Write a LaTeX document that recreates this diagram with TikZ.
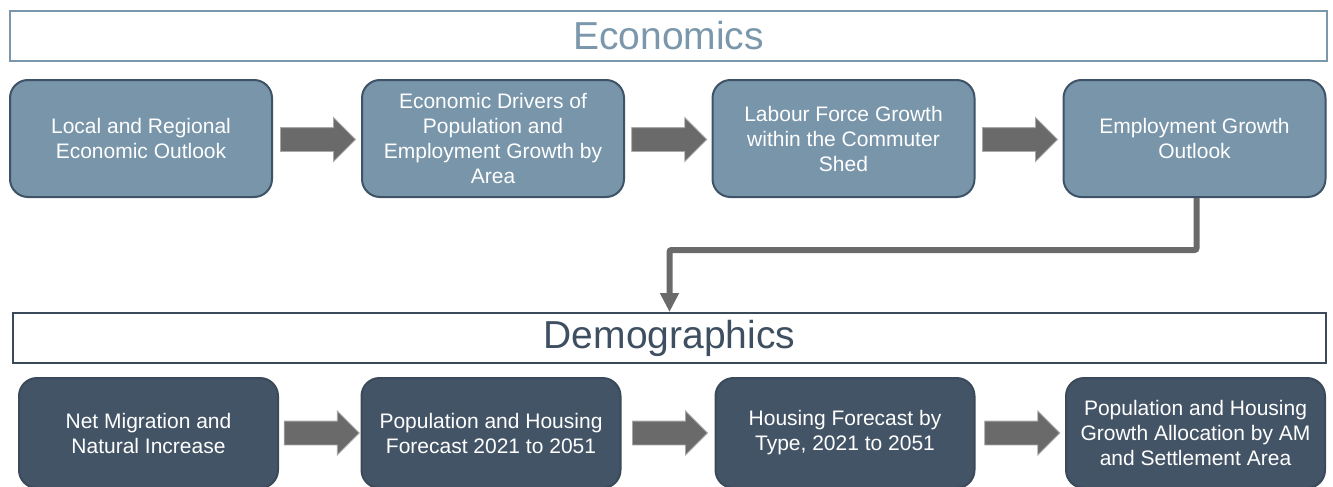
\documentclass[tikz,border=0pt]{standalone}
\usepackage{fontspec}
\setmainfont{Liberation Sans}
\usetikzlibrary{arrows.meta,shapes.arrows,calc}
\definecolor{econfill}{HTML}{7895AA}
\definecolor{econline}{HTML}{3E5367}
\definecolor{demofill}{HTML}{435466}
\definecolor{demoline}{HTML}{3A4A5B}
\definecolor{econtitle}{HTML}{7A97AB}
\definecolor{demotitle}{HTML}{3E4F61}
\definecolor{arrowgray}{HTML}{6A6A6A}
\definecolor{arrowedge}{HTML}{A8A8A8}
\tikzset{
  x=1pt, y=-1pt,
  stepbox/.style={rounded corners=18pt, line width=2pt, text=white,
    align=center, font=\fontsize{21}{25}\selectfont, inner sep=0pt},
  econbox/.style={stepbox, fill=econfill, draw=econline,
    minimum width=262pt, minimum height=117pt},
  demobox/.style={stepbox, fill=demofill, draw=demoline,
    minimum width=259pt, minimum height=110pt},
  header/.style={draw, line width=2pt, fill=white, inner sep=0pt,
    font=\fontsize{39}{44}\selectfont},
  blockarrow/.style={single arrow, fill=arrowgray, draw=arrowedge, line width=0.8pt,
    minimum height=75pt, minimum width=43pt, single arrow head extend=10pt,
    inner xsep=0pt, inner ysep=11.5pt, text height=0pt, text depth=0pt},
  conn/.style={draw=arrowgray, line width=6pt, rounded corners=2pt,
    -{Triangle[width=18pt,length=19pt]}}
}
\begin{document}
\begin{tikzpicture}
\useasboundingbox (0,0) rectangle (1333,487);
% headers
\node[header, draw=econtitle, text=econtitle, minimum width=1317pt, minimum height=50pt]
  (eh) at (668.5,36) {Economics};
\node[header, draw=demoline, text=demotitle, minimum width=1313pt, minimum height=50pt]
  (dh) at (669.5,338) {Demographics};
% economics row
\node[econbox] (e1) at (141,138.5) {Local and Regional\\Economic Outlook};
\node[econbox] (e2) at (493,138.5) {Economic Drivers of\\Population and\\Employment Growth by\\Area};
\node[econbox] (e3) at (843.5,138.5) {Labour Force Growth\\within the Commuter\\Shed};
\node[econbox] (e4) at (1194.5,138.5) {Employment Growth\\Outlook};
% demographics row
\node[demobox] (d1) at (148.5,433) {Net Migration and\\Natural Increase};
\node[demobox] (d2) at (491,433) {Population and Housing\\Forecast 2021 to 2051};
\node[demobox] (d3) at (845,433) {Housing Forecast by\\Type, 2021 to 2051};
\node[demobox] (d4) at (1195.5,433) {Population and Housing\\Growth Allocation by AM\\and Settlement Area};
% block arrows
\node[blockarrow] (a1) at ($(e1.east)!0.5!(e2.west)+(-5,1)$) {};
\node[blockarrow] (a2) at ($(e2.east)!0.5!(e3.west)+(-5,1)$) {};
\node[blockarrow] (a3) at ($(e3.east)!0.5!(e4.west)+(-5,1)$) {};
\node[blockarrow] (a4) at ($(d1.east)!0.5!(d2.west)+(-4,0)$) {};
\node[blockarrow] (a5) at ($(d2.east)!0.5!(d3.west)+(-4,0)$) {};
\node[blockarrow] (a6) at ($(d3.east)!0.5!(d4.west)+(-4,0)$) {};
% connector
\draw[conn] ([xshift=2pt]e4.south) -- ++(0,52) -| (dh.north);
\end{tikzpicture}
\end{document}
